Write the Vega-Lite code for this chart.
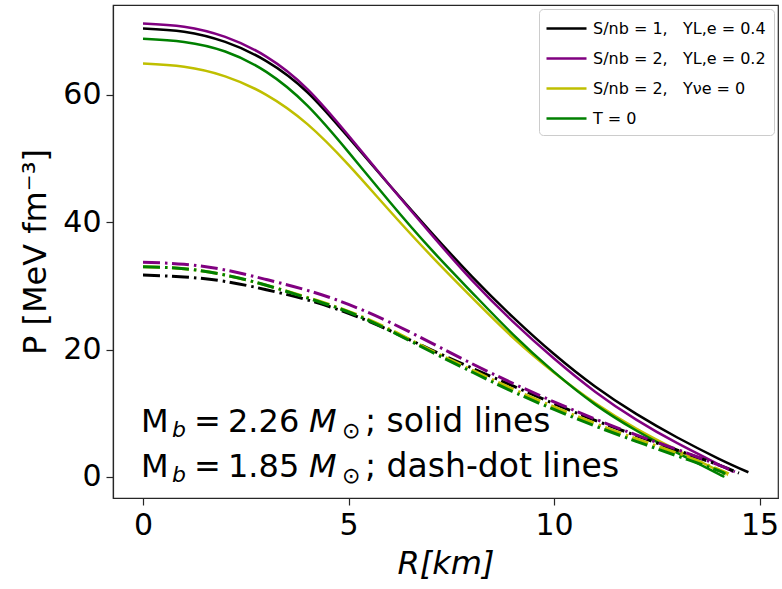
{
  "$schema": "https://vega.github.io/schema/vega-lite/v6.json",
  "width": 665,
  "height": 493,
  "autosize": {"type": "none"},
  "padding": {"left": 113, "top": 5, "right": 4, "bottom": 91},
  "background": "white",
  "config": {
    "view": {"stroke": "#262626", "strokeWidth": 1.2},
    "font": "DejaVu Sans",
    "axis": {
      "grid": false, "labelFont": "DejaVu Sans", "titleFont": "DejaVu Sans",
      "labelFontSize": 30, "titleFontSize": 32, "labelColor": "black", "titleColor": "black",
      "titleFontWeight": "normal", "tickSize": 7, "tickWidth": 1.2, "tickColor": "#262626",
      "domainColor": "#262626", "domainWidth": 1.2, "labelPadding": 5
    }
  },
  "datasets": {
    "curves": [
      {"c":"A","t":"solid","R":0,"P":70.4},{"c":"A","t":"solid","R":1,"P":69.9},{"c":"A","t":"solid","R":2,"P":68.3},{"c":"A","t":"solid","R":3,"P":65.3},{"c":"A","t":"solid","R":4,"P":60.4},{"c":"A","t":"solid","R":5,"P":53.3},{"c":"A","t":"solid","R":6,"P":45.8},{"c":"A","t":"solid","R":7,"P":38.5},{"c":"A","t":"solid","R":8,"P":31.5},{"c":"A","t":"solid","R":9,"P":25.1},{"c":"A","t":"solid","R":10,"P":19.3},{"c":"A","t":"solid","R":11,"P":14.2},{"c":"A","t":"solid","R":12,"P":9.9},{"c":"A","t":"solid","R":13,"P":6.2},{"c":"A","t":"solid","R":14,"P":2.9},{"c":"A","t":"solid","R":14.73,"P":0.74},
      {"c":"B","t":"solid","R":0,"P":71.2},{"c":"B","t":"solid","R":1,"P":70.7},{"c":"B","t":"solid","R":2,"P":69.1},{"c":"B","t":"solid","R":3,"P":66.0},{"c":"B","t":"solid","R":4,"P":60.9},{"c":"B","t":"solid","R":5,"P":53.6},{"c":"B","t":"solid","R":6,"P":45.8},{"c":"B","t":"solid","R":7,"P":38.2},{"c":"B","t":"solid","R":8,"P":30.9},{"c":"B","t":"solid","R":9,"P":24.4},{"c":"B","t":"solid","R":10,"P":18.6},{"c":"B","t":"solid","R":11,"P":13.4},{"c":"B","t":"solid","R":12,"P":9.0},{"c":"B","t":"solid","R":13,"P":5.3},{"c":"B","t":"solid","R":14,"P":2.0},{"c":"B","t":"solid","R":14.36,"P":0.8},
      {"c":"C","t":"solid","R":0,"P":64.9},{"c":"C","t":"solid","R":1,"P":64.4},{"c":"C","t":"solid","R":2,"P":62.9},{"c":"C","t":"solid","R":3,"P":60.0},{"c":"C","t":"solid","R":4,"P":55.4},{"c":"C","t":"solid","R":5,"P":49.0},{"c":"C","t":"solid","R":6,"P":41.8},{"c":"C","t":"solid","R":7,"P":34.8},{"c":"C","t":"solid","R":8,"P":28.2},{"c":"C","t":"solid","R":9,"P":21.9},{"c":"C","t":"solid","R":10,"P":16.4},{"c":"C","t":"solid","R":11,"P":11.6},{"c":"C","t":"solid","R":12,"P":7.6},{"c":"C","t":"solid","R":13,"P":4.2},{"c":"C","t":"solid","R":14,"P":1.0},{"c":"C","t":"solid","R":14.2,"P":0.3},
      {"c":"D","t":"solid","R":0,"P":68.8},{"c":"D","t":"solid","R":1,"P":68.3},{"c":"D","t":"solid","R":2,"P":66.8},{"c":"D","t":"solid","R":3,"P":63.6},{"c":"D","t":"solid","R":4,"P":58.3},{"c":"D","t":"solid","R":5,"P":51.0},{"c":"D","t":"solid","R":6,"P":43.2},{"c":"D","t":"solid","R":7,"P":35.8},{"c":"D","t":"solid","R":8,"P":29.0},{"c":"D","t":"solid","R":9,"P":22.4},{"c":"D","t":"solid","R":10,"P":16.5},{"c":"D","t":"solid","R":11,"P":11.4},{"c":"D","t":"solid","R":12,"P":7.3},{"c":"D","t":"solid","R":13,"P":3.8},{"c":"D","t":"solid","R":14,"P":0.5},{"c":"D","t":"solid","R":14.05,"P":0.3},
      {"c":"A","t":"dd","R":0,"P":31.7},{"c":"A","t":"dd","R":1,"P":31.4},{"c":"A","t":"dd","R":2,"P":30.7},{"c":"A","t":"dd","R":3,"P":29.4},{"c":"A","t":"dd","R":4,"P":27.8},{"c":"A","t":"dd","R":5,"P":25.7},{"c":"A","t":"dd","R":6,"P":23.0},{"c":"A","t":"dd","R":7,"P":20.0},{"c":"A","t":"dd","R":8,"P":17.1},{"c":"A","t":"dd","R":9,"P":14.3},{"c":"A","t":"dd","R":10,"P":11.5},{"c":"A","t":"dd","R":11,"P":8.9},{"c":"A","t":"dd","R":12,"P":6.5},{"c":"A","t":"dd","R":13,"P":4.2},{"c":"A","t":"dd","R":14,"P":1.9},{"c":"A","t":"dd","R":14.5,"P":0.6},
      {"c":"B","t":"dd","R":0,"P":33.7},{"c":"B","t":"dd","R":1,"P":33.4},{"c":"B","t":"dd","R":2,"P":32.5},{"c":"B","t":"dd","R":3,"P":31.0},{"c":"B","t":"dd","R":4,"P":29.3},{"c":"B","t":"dd","R":5,"P":27.1},{"c":"B","t":"dd","R":6,"P":24.3},{"c":"B","t":"dd","R":7,"P":21.1},{"c":"B","t":"dd","R":8,"P":17.8},{"c":"B","t":"dd","R":9,"P":14.7},{"c":"B","t":"dd","R":10,"P":11.8},{"c":"B","t":"dd","R":11,"P":9.1},{"c":"B","t":"dd","R":12,"P":6.6},{"c":"B","t":"dd","R":13,"P":4.3},{"c":"B","t":"dd","R":14,"P":1.9},{"c":"B","t":"dd","R":14.4,"P":0.8},
      {"c":"C","t":"dd","R":0,"P":33.0},{"c":"C","t":"dd","R":1,"P":32.7},{"c":"C","t":"dd","R":2,"P":31.7},{"c":"C","t":"dd","R":3,"P":30.1},{"c":"C","t":"dd","R":4,"P":28.2},{"c":"C","t":"dd","R":5,"P":26.0},{"c":"C","t":"dd","R":6,"P":23.2},{"c":"C","t":"dd","R":7,"P":19.9},{"c":"C","t":"dd","R":8,"P":16.8},{"c":"C","t":"dd","R":9,"P":13.8},{"c":"C","t":"dd","R":10,"P":11.0},{"c":"C","t":"dd","R":11,"P":8.4},{"c":"C","t":"dd","R":12,"P":6.0},{"c":"C","t":"dd","R":13,"P":3.7},{"c":"C","t":"dd","R":14,"P":1.2},{"c":"C","t":"dd","R":14.25,"P":0.5},
      {"c":"D","t":"dd","R":0,"P":33.0},{"c":"D","t":"dd","R":1,"P":32.7},{"c":"D","t":"dd","R":2,"P":31.7},{"c":"D","t":"dd","R":3,"P":30.1},{"c":"D","t":"dd","R":4,"P":28.1},{"c":"D","t":"dd","R":5,"P":25.9},{"c":"D","t":"dd","R":6,"P":23.0},{"c":"D","t":"dd","R":7,"P":19.7},{"c":"D","t":"dd","R":8,"P":16.5},{"c":"D","t":"dd","R":9,"P":13.4},{"c":"D","t":"dd","R":10,"P":10.6},{"c":"D","t":"dd","R":11,"P":8.0},{"c":"D","t":"dd","R":12,"P":5.6},{"c":"D","t":"dd","R":13,"P":3.3},{"c":"D","t":"dd","R":14,"P":1.0},{"c":"D","t":"dd","R":14.1,"P":0.6}
    ]
  },
  "layer": [
    {
      "data": {"name": "curves"},
      "transform": [{"filter": "datum.t === 'solid'"}],
      "mark": {"type": "line", "strokeWidth": 2.5, "interpolate": "natural"},
      "encoding": {
        "x": {"field": "R", "type": "quantitative", "scale": {"domain": [-0.73, 15.45], "nice": false, "zero": false},
              "axis": {"values": [0, 5, 10, 15], "title": "R[km]", "titleFontStyle": "italic", "titlePadding": 8}},
        "y": {"field": "P", "type": "quantitative", "scale": {"domain": [-3.3, 74.1], "nice": false, "zero": false},
              "axis": {"values": [0, 20, 40, 60], "title": "P [MeV fm⁻³]", "titlePadding": 10}},
        "color": {"field": "c", "type": "nominal",
                  "scale": {"domain": ["A", "B", "C", "D"], "range": ["#000000", "#800080", "#bfbf00", "#008000"]},
                  "legend": {"title": null, "orient": "top-right", "offset": 4,
                             "symbolType": "M-2,0H2", "symbolSize": 400, "symbolStrokeWidth": 2.5, "symbolOffset": 8,
                             "labelFontSize": 16, "labelFont": "DejaVu Sans", "labelColor": "black", "labelOffset": 15, "labelLimit": 300,
                             "rowPadding": 10, "padding": 8, "fillColor": "rgba(255,255,255,0.8)", "strokeColor": "#cccccc", "cornerRadius": 4,
                             "labelExpr": "datum.label === 'A' ? 'S/nb = 1,\u00a0\u00a0 YL,e = 0.4' : datum.label === 'B' ? 'S/nb = 2,\u00a0\u00a0 YL,e = 0.2' : datum.label === 'C' ? 'S/nb = 2,\u00a0\u00a0 Yνe = 0' : 'T = 0'"}}
      }
    },
    {
      "data": {"name": "curves"},
      "transform": [{"filter": "datum.t === 'dd'"}],
      "mark": {"type": "line", "strokeWidth": 3, "interpolate": "natural", "strokeDash": [17, 5, 2.5, 4.5]},
      "encoding": {
        "x": {"field": "R", "type": "quantitative"},
        "y": {"field": "P", "type": "quantitative"},
        "color": {"field": "c", "type": "nominal", "legend": null}
      }
    },
    {"data": {"values": [{}]}, "mark": {"type": "text", "align": "left", "baseline": "alphabetic", "fontSize": 32, "dx": -2, "text": "M"}, "encoding": {"x": {"datum": 0}, "y": {"datum": 7.0}}},
    {"data": {"values": [{}]}, "mark": {"type": "text", "align": "left", "baseline": "alphabetic", "fontSize": 22, "fontStyle": "italic", "dx": 29, "dy": 5, "text": "b"}, "encoding": {"x": {"datum": 0}, "y": {"datum": 7.0}}},
    {"data": {"values": [{}]}, "mark": {"type": "text", "align": "left", "baseline": "alphabetic", "fontSize": 32, "dx": 51, "text": "="}, "encoding": {"x": {"datum": 0}, "y": {"datum": 7.0}}},
    {"data": {"values": [{}]}, "mark": {"type": "text", "align": "left", "baseline": "alphabetic", "fontSize": 32, "dx": 85, "text": "2.26"}, "encoding": {"x": {"datum": 0}, "y": {"datum": 7.0}}},
    {"data": {"values": [{}]}, "mark": {"type": "text", "align": "left", "baseline": "alphabetic", "fontSize": 32, "fontStyle": "italic", "dx": 166, "text": "M"}, "encoding": {"x": {"datum": 0}, "y": {"datum": 7.0}}},
    {"data": {"values": [{}]}, "mark": {"type": "text", "align": "left", "baseline": "alphabetic", "fontSize": 22, "dx": 199, "dy": 6, "text": "⊙"}, "encoding": {"x": {"datum": 0}, "y": {"datum": 7.0}}},
    {"data": {"values": [{}]}, "mark": {"type": "text", "align": "left", "baseline": "alphabetic", "fontSize": 33, "dx": 222, "text": "; solid lines"}, "encoding": {"x": {"datum": 0}, "y": {"datum": 7.0}}},
    {"data": {"values": [{}]}, "mark": {"type": "text", "align": "left", "baseline": "alphabetic", "fontSize": 32, "dx": -2, "text": "M"}, "encoding": {"x": {"datum": 0}, "y": {"datum": -0.05}}},
    {"data": {"values": [{}]}, "mark": {"type": "text", "align": "left", "baseline": "alphabetic", "fontSize": 22, "fontStyle": "italic", "dx": 29, "dy": 5, "text": "b"}, "encoding": {"x": {"datum": 0}, "y": {"datum": -0.05}}},
    {"data": {"values": [{}]}, "mark": {"type": "text", "align": "left", "baseline": "alphabetic", "fontSize": 32, "dx": 51, "text": "="}, "encoding": {"x": {"datum": 0}, "y": {"datum": -0.05}}},
    {"data": {"values": [{}]}, "mark": {"type": "text", "align": "left", "baseline": "alphabetic", "fontSize": 32, "dx": 85, "text": "1.85"}, "encoding": {"x": {"datum": 0}, "y": {"datum": -0.05}}},
    {"data": {"values": [{}]}, "mark": {"type": "text", "align": "left", "baseline": "alphabetic", "fontSize": 32, "fontStyle": "italic", "dx": 166, "text": "M"}, "encoding": {"x": {"datum": 0}, "y": {"datum": -0.05}}},
    {"data": {"values": [{}]}, "mark": {"type": "text", "align": "left", "baseline": "alphabetic", "fontSize": 22, "dx": 199, "dy": 6, "text": "⊙"}, "encoding": {"x": {"datum": 0}, "y": {"datum": -0.05}}},
    {"data": {"values": [{}]}, "mark": {"type": "text", "align": "left", "baseline": "alphabetic", "fontSize": 33, "dx": 222, "text": "; dash-dot lines"}, "encoding": {"x": {"datum": 0}, "y": {"datum": -0.05}}}
  ]
}
